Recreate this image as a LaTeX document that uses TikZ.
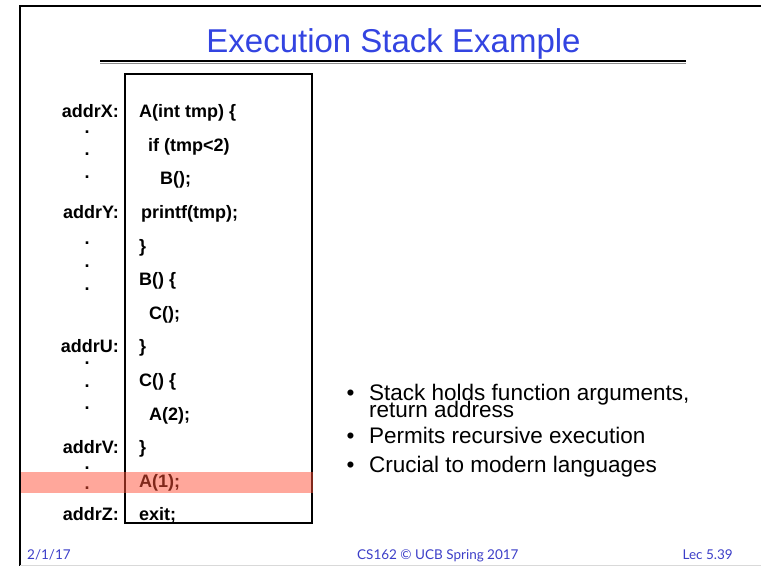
\documentclass[tikz,border=0pt]{standalone}
\usepackage{fontspec}
\usepackage{xcolor}
\usepackage{tikz}
\setmainfont{Liberation Sans}
\newfontfamily\footfont{Lato}
\newcommand{\bulletfont}{\fontsize{22.5}{17}\selectfont\lineskiplimit=-30pt\relax}
\definecolor{titleblue}{RGB}{51,68,225}
\definecolor{footblue}{RGB}{60,62,200}
\definecolor{hilite}{RGB}{255,80,55}
\tikzset{
	slidetitle/.style={inner sep=0,anchor=base,text=titleblue,font=\fontsize{33}{38}\selectfont},
	codeline/.style={inner sep=0,anchor=base west,font=\fontsize{18}{21}\selectfont\bfseries},
	addrlbl/.style={inner sep=0,anchor=base east,font=\fontsize{18}{21}\selectfont\bfseries},
	addrdot/.style={inner sep=0,anchor=base,font=\fontsize{18}{21}\selectfont\bfseries},
	bulletmark/.style={inner sep=0,anchor=base,font=\bulletfont},
	bullettext/.style={inner sep=0,anchor=base west,align=left,font=\bulletfont},
	footer/.style={inner sep=0,text=footblue,font=\footfont\fontsize{13.5}{16}\selectfont}
}

\begin{document}
\begin{tikzpicture}[x=1pt,y=-1pt]
		\useasboundingbox (0,0) rectangle (761,566);
		\draw[line width=2] (761,6) to (20,6) to (20,566);
		\draw[black!15,line width=1] (20,565) to (761,565);
		
		\node[slidetitle] (title) at (393.5,52) {Execution Stack Example};
		\draw[line width=1.2] (100,61) to (686,61);
		\draw[black!45,line width=1] (100,63.6) to (686,63.6);
		
		\draw[line width=2] (125,74) rectangle (312,523);
		\foreach \row/\cx/\txt in {0/139/{A(int tmp) \{},1/148/{if (tmp<2)},2/160/{B();},3/141/{printf(tmp);},4/139/{\}},5/139/{B() \{},6/149/{C();},7/139/{\}},8/139/{C() \{},9/149/{A(2);},10/139/{\}},11/139/{A(1);},12/139/{exit;}}
		{
		\node[codeline] (code\row) at (\cx,{117.7+33.6*\row}) {\txt};
		}
		\foreach \row/\lbl in {0/X,3/Y,7/U,10/V,12/Z}
		{
		\node[addrlbl] (addr\lbl) at (119,{117.7+33.6*\row}) {addr\lbl:};
		}
		\foreach \dy [count=\k] in {132,154,177,243,266,289,363,386,408,468,488}
		{
		\node[addrdot] (dot\k) at (87,{\dy+1.3}) {.};
		}
		\fill[hilite,opacity=0.5] (21,472) rectangle (313,493);
		
		\foreach \by/\ty/\txt [count=\k] in {400/417/{Stack holds function arguments,\\return address},443/443/{Permits recursive execution},472/472/{Crucial to modern languages}}
		{
		\node[bulletmark] (bul\k) at (350.5,\by) {•};
		\node[bullettext] (item\k) at (369,\ty) {\txt};
		}
		
		\node[footer,anchor=base west] (date) at (27,559) {2/1/17};
		\node[footer,anchor=base west] (course) at (357,559) {CS162 © UCB Spring 2017};
		\node[footer,anchor=base east] (lec) at (733,559) {Lec 5.39};
	\end{tikzpicture}
\end{document}
